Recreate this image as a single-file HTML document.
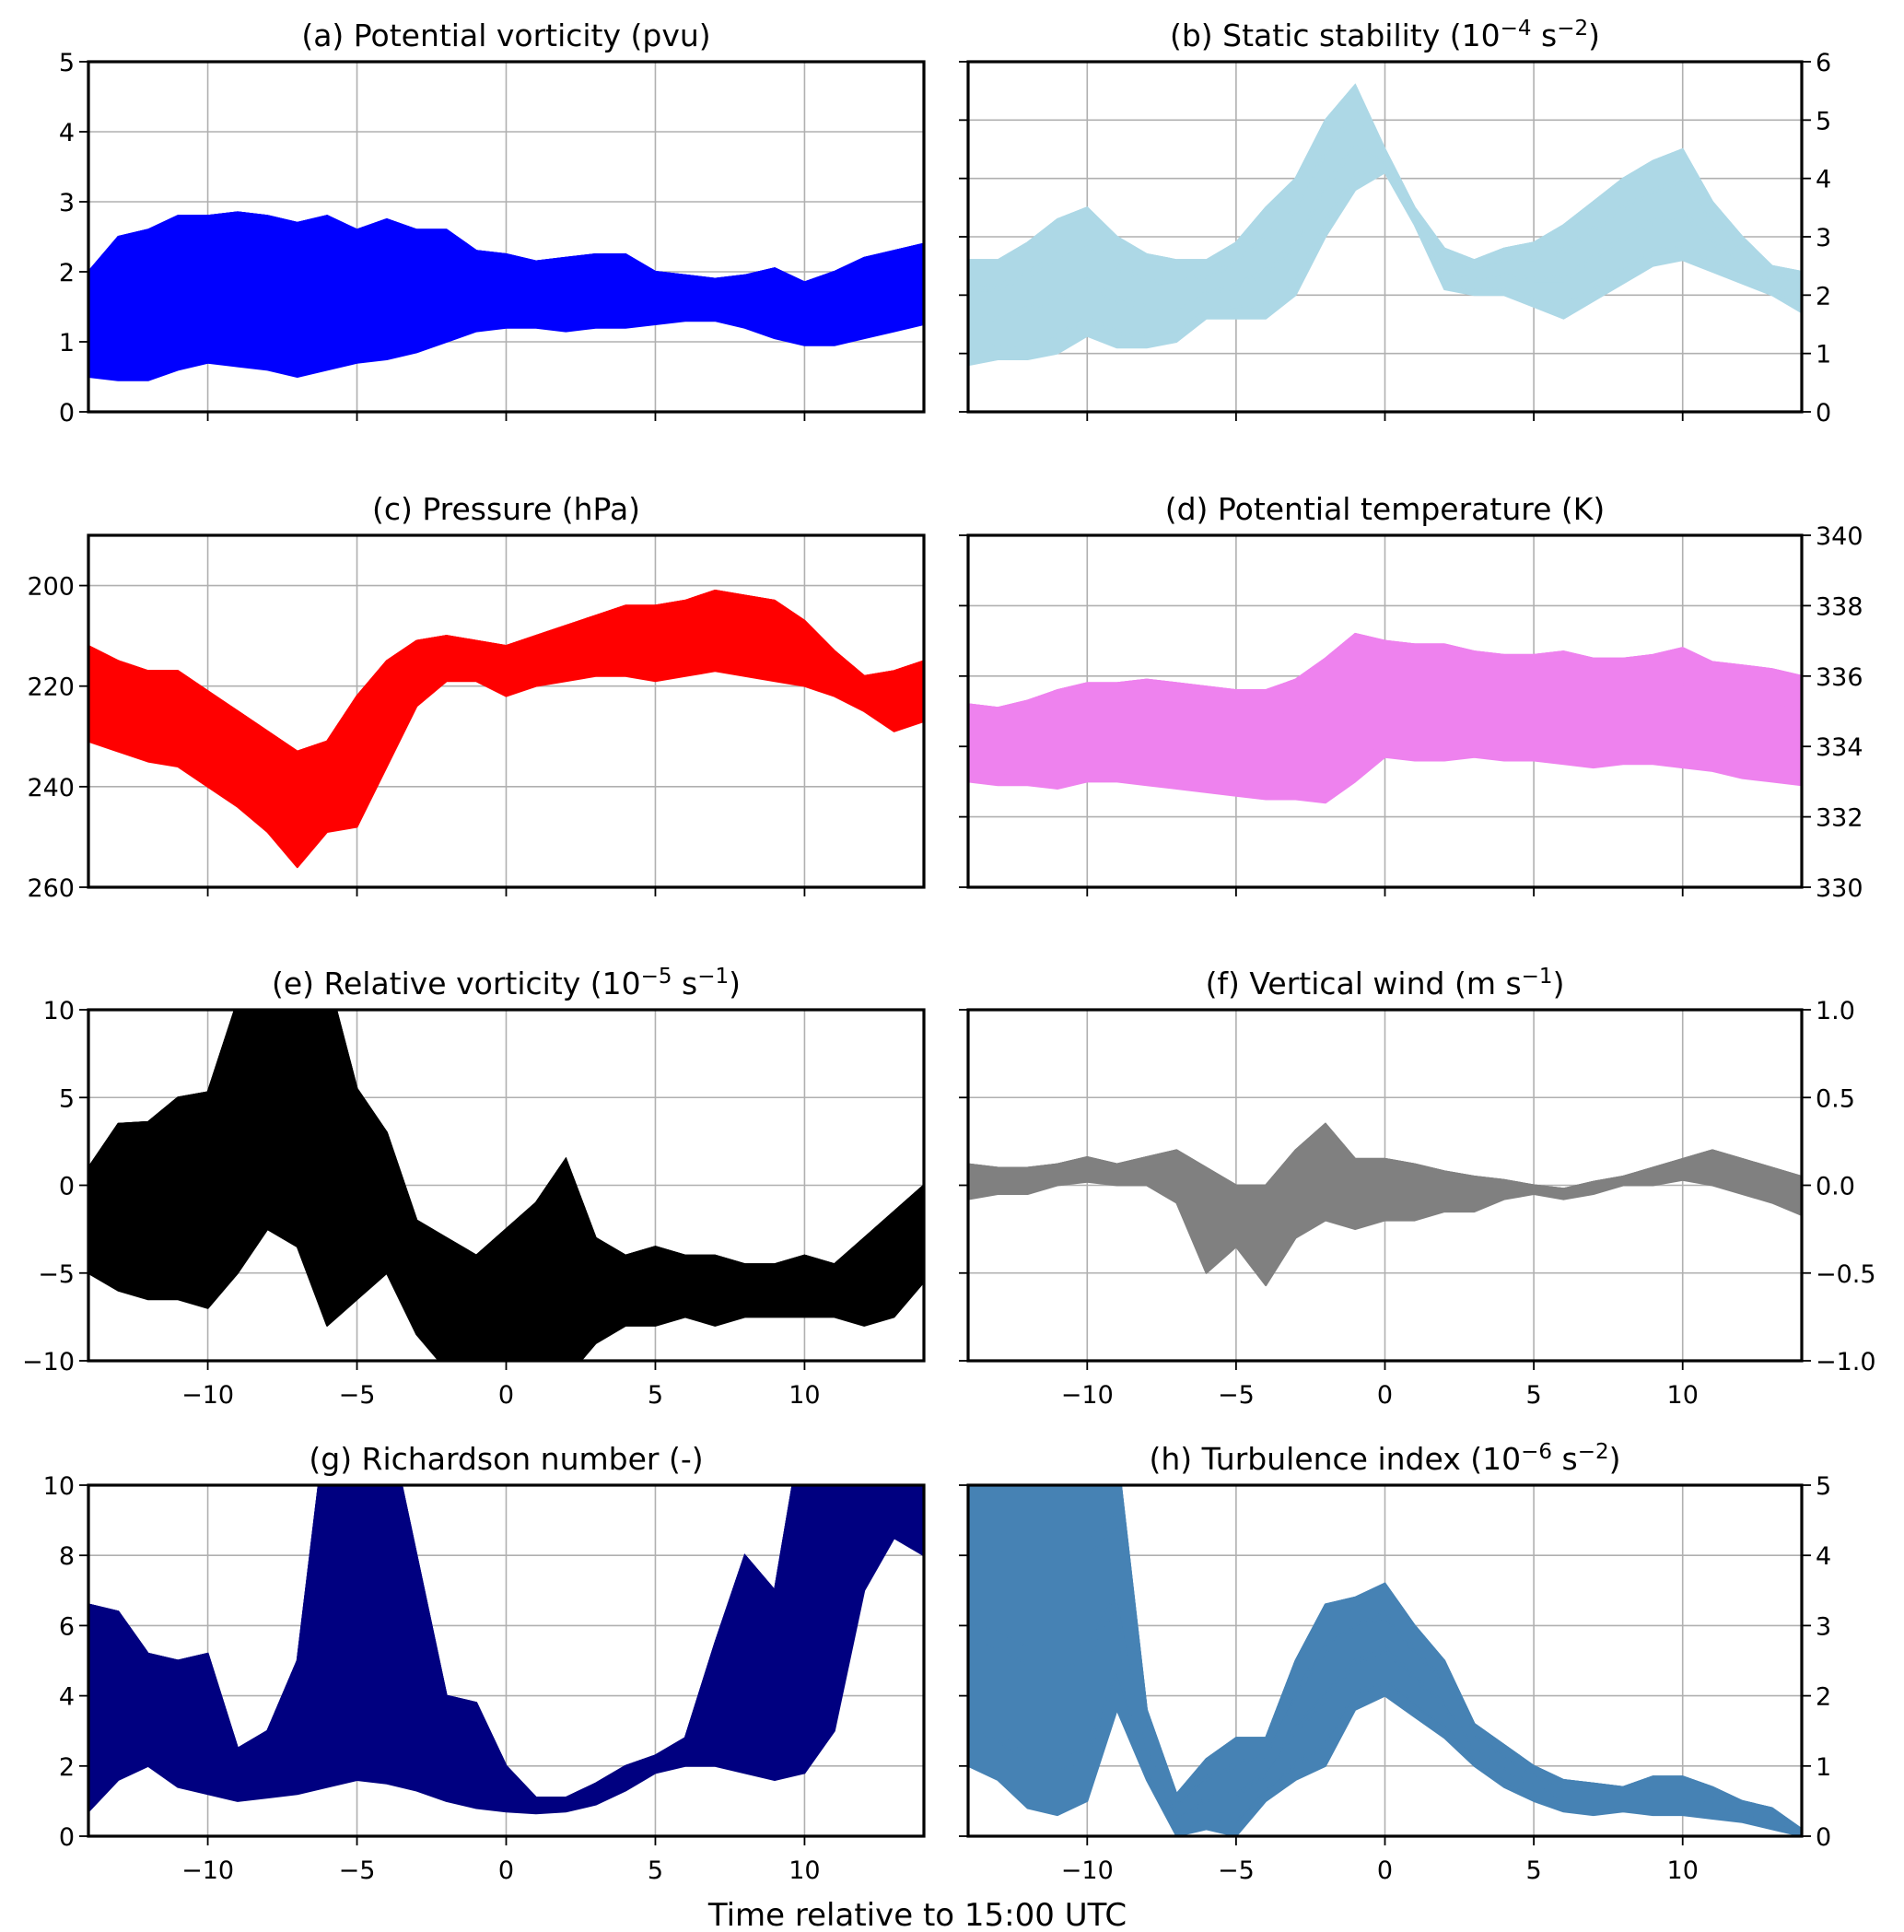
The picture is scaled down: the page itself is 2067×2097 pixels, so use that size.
<!DOCTYPE html>
<html><head><meta charset="utf-8"><style>
html,body{margin:0;padding:0;background:#fff}
svg{display:block;font-family:"DejaVu Sans","Liberation Sans",sans-serif}
</style></head><body>
<svg id="fig" width="2067" height="2097" viewBox="0 0 2067 2097" xmlns="http://www.w3.org/2000/svg"></svg>
<script>
const hours=[-14,-13,-12,-11,-10,-9,-8,-7,-6,-5,-4,-3,-2,-1,0,1,2,3,4,5,6,7,8,9,10,11,12,13,14];
const xTicks=[-10,-5,0,5,10];
const pvUpper=[2.0,2.5,2.6,2.8,2.8,2.85,2.8,2.7,2.8,2.6,2.75,2.6,2.6,2.3,2.25,2.15,2.2,2.25,2.25,2.0,1.95,1.9,1.95,2.05,1.85,2.0,2.2,2.3,2.4];
const pvLower=[0.5,0.45,0.45,0.6,0.7,0.65,0.6,0.5,0.6,0.7,0.75,0.85,1.0,1.15,1.2,1.2,1.15,1.2,1.2,1.25,1.3,1.3,1.2,1.05,0.95,0.95,1.05,1.15,1.25];
const ssUpper=[2.6,2.6,2.9,3.3,3.5,3.0,2.7,2.6,2.6,2.9,3.5,4.0,5.0,5.6,4.5,3.5,2.8,2.6,2.8,2.9,3.2,3.6,4.0,4.3,4.5,3.6,3.0,2.5,2.4];
const ssLower=[0.8,0.9,0.9,1.0,1.3,1.1,1.1,1.2,1.6,1.6,1.6,2.0,3.0,3.8,4.1,3.2,2.1,2.0,2.0,1.8,1.6,1.9,2.2,2.5,2.6,2.4,2.2,2.0,1.7];
const pUpper=[212,215,217,217,221,225,229,233,231,222,215,211,210,211,212,210,208,206,204,204,203,201,202,203,207,213,218,217,215];
const pLower=[231,233,235,236,240,244,249,256,249,248,236,224,219,219,222,220,219,218,218,219,218,217,218,219,220,222,225,229,227];
const thUpper=[335.2,335.1,335.3,335.6,335.8,335.8,335.9,335.8,335.7,335.6,335.6,335.9,336.5,337.2,337.0,336.9,336.9,336.7,336.6,336.6,336.7,336.5,336.5,336.6,336.8,336.4,336.3,336.2,336.0];
const thLower=[333.0,332.9,332.9,332.8,333.0,333.0,332.9,332.8,332.7,332.6,332.5,332.5,332.4,333.0,333.7,333.6,333.6,333.7,333.6,333.6,333.5,333.4,333.5,333.5,333.4,333.3,333.1,333.0,332.9];
const rvUpper=[1,3.5,3.6,5,5.3,10.5,10,12,12,5.5,3,-2,-3,-4,-2.5,-1,1.5,-3,-4,-3.5,-4,-4,-4.5,-4.5,-4,-4.5,-3,-1.5,0];
const rvLower=[-5,-6,-6.5,-6.5,-7,-5,-2.5,-3.5,-8,-6.5,-5,-8.5,-10.5,-10.5,-11,-11,-11,-9,-8,-8,-7.5,-8,-7.5,-7.5,-7.5,-7.5,-8,-7.5,-5.5];
const wUpper=[0.12,0.1,0.1,0.12,0.16,0.12,0.16,0.2,0.1,0.0,0.0,0.2,0.35,0.15,0.15,0.12,0.08,0.05,0.03,0.0,-0.02,0.02,0.05,0.1,0.15,0.2,0.15,0.1,0.05];
const wLower=[-0.08,-0.05,-0.05,0,0.02,0,0,-0.1,-0.5,-0.35,-0.57,-0.3,-0.2,-0.25,-0.2,-0.2,-0.15,-0.15,-0.08,-0.05,-0.08,-0.05,0,0,0.03,0,-0.05,-0.1,-0.17];
const riUpper=[6.6,6.4,5.2,5,5.2,2.5,3,5,12,12,12,8,4,3.8,2,1.1,1.1,1.5,2,2.3,2.8,5.5,8,7,12,12,12,12,11];
const riLower=[0.7,1.6,2,1.4,1.2,1.0,1.1,1.2,1.4,1.6,1.5,1.3,1.0,0.8,0.7,0.65,0.7,0.9,1.3,1.8,2.0,2.0,1.8,1.6,1.8,3,7,8.5,8];
const tiUpper=[5.5,5.5,5.5,5.5,5.5,5.5,1.8,0.6,1.1,1.4,1.4,2.5,3.3,3.4,3.6,3.0,2.5,1.6,1.3,1.0,0.8,0.75,0.7,0.85,0.85,0.7,0.5,0.4,0.1];
const tiLower=[1.0,0.8,0.4,0.3,0.5,1.8,0.8,0.0,0.1,0.0,0.5,0.8,1.0,1.8,2.0,1.7,1.4,1.0,0.7,0.5,0.35,0.3,0.35,0.3,0.3,0.25,0.2,0.1,0.0];

const NS="http://www.w3.org/2000/svg";
const svg=document.getElementById('fig');
function mk(tag,attrs,parent){const e=document.createElementNS(NS,tag);for(const k in attrs)e.setAttribute(k,attrs[k]);(parent||svg).appendChild(e);return e;}

const cols=[[96,1003],[1051,1956]];
const rows=[[67,447],[581,963],[1096,1477],[1612,1993]];
const panels=[
 {id:'a',col:0,row:0,title:['(a) Potential vorticity (pvu)'],min:0,max:5,inv:false,ticks:[0,1,2,3,4,5],labels:['0','1','2','3','4','5'],up:pvUpper,lo:pvLower,color:'#0000ff',xl:false},
 {id:'b',col:1,row:0,title:['(b) Static stability (10','−4',' s','−2',')'],min:0,max:6,inv:false,ticks:[0,1,2,3,4,5,6],labels:['0','1','2','3','4','5','6'],up:ssUpper,lo:ssLower,color:'#add8e6',xl:false},
 {id:'c',col:0,row:1,title:['(c) Pressure (hPa)'],min:190,max:260,inv:true,ticks:[200,220,240,260],labels:['200','220','240','260'],up:pUpper,lo:pLower,color:'#ff0000',xl:false},
 {id:'d',col:1,row:1,title:['(d) Potential temperature (K)'],min:330,max:340,inv:false,ticks:[330,332,334,336,338,340],labels:['330','332','334','336','338','340'],up:thUpper,lo:thLower,color:'#ee82ee',xl:false},
 {id:'e',col:0,row:2,title:['(e) Relative vorticity  (10','−5',' s','−1',')'],min:-10,max:10,inv:false,ticks:[-10,-5,0,5,10],labels:['−10','−5','0','5','10'],up:rvUpper,lo:rvLower,color:'#000000',xl:true},
 {id:'f',col:1,row:2,title:['(f) Vertical wind (m s','−1',')'],min:-1,max:1,inv:false,ticks:[-1,-0.5,0,0.5,1],labels:['−1.0','−0.5','0.0','0.5','1.0'],up:wUpper,lo:wLower,color:'#808080',xl:true},
 {id:'g',col:0,row:3,title:['(g) Richardson number (-)'],min:0,max:10,inv:false,ticks:[0,2,4,6,8,10],labels:['0','2','4','6','8','10'],up:riUpper,lo:riLower,color:'#000080',xl:true},
 {id:'h',col:1,row:3,title:['(h) Turbulence index (10','−6',' s','−2',')'],min:0,max:5,inv:false,ticks:[0,1,2,3,4,5],labels:['0','1','2','3','4','5'],up:tiUpper,lo:tiLower,color:'#4682b4',xl:true}
];
const defs=mk('defs',{});
panels.forEach(p=>{
 const [x0,x1]=cols[p.col],[y0,y1]=rows[p.row];
 const X=v=>x0+(v+14)/28*(x1-x0);
 const Y=v=>{const t=(v-p.min)/(p.max-p.min);return p.inv? y0+t*(y1-y0) : y1-t*(y1-y0);};
 const g=mk('g',{});
 
 
 const cp=mk('clipPath',{id:'clip'+p.id},defs);
 mk('rect',{x:x0,y:y0,width:x1-x0,height:y1-y0},cp);
 xTicks.forEach(t=>{const l=mk('line',{x1:X(t),x2:X(t),y1:y0,y2:y1,stroke:'#b0b0b0','stroke-width':1.6},g);
  });
 p.ticks.forEach(t=>{const l=mk('line',{x1:x0,x2:x1,y1:Y(t),y2:Y(t),stroke:'#b0b0b0','stroke-width':1.6},g);
  });
 const sg=mk('g',{'clip-path':'url(#clip'+p.id+')'},g);
 
 
 let d='';hours.forEach((h,i)=>{d+=(i?'L':'M')+X(h).toFixed(1)+','+Y(p.up[i]).toFixed(1);});
 for(let i=hours.length-1;i>=0;i--)d+='L'+X(hours[i]).toFixed(1)+','+Y(p.lo[i]).toFixed(1);
 const band=mk('path',{d:d+'Z',fill:p.color,stroke:p.color,'stroke-width':2,'stroke-linejoin':'round'},sg);
 
 
 const fr=[0,0.12,0.25,0.4,0.55,0.7,0.85,1];
 fr.forEach((f,k)=>{let dd='';hours.forEach((h,i)=>{const v=p.lo[i]+(p.up[i]-p.lo[i])*(k%2?f:1-f);dd+=(i?'L':'M')+X(h).toFixed(1)+','+Y(v).toFixed(1);});
  const l=mk('path',{d:dd,fill:'none',stroke:p.color,'stroke-width':2},sg);
  });
 const sp=mk('rect',{x:x0,y:y0,width:x1-x0,height:y1-y0,fill:'none',stroke:'#000','stroke-width':3.2},g);
 
 xTicks.forEach((t,i)=>{mk('line',{x1:X(t),x2:X(t),y1:y1,y2:y1+10,stroke:'#000','stroke-width':1.8},g);
  if(p.xl){const tx=mk('text',{x:X(t),y:y1+46,'font-size':27,'text-anchor':'middle'},g);tx.textContent=['−10','−5','0','5','10'][i];
   }});
 p.ticks.forEach((t,i)=>{
  mk('line',{x1:x0-10,x2:x0,y1:Y(t),y2:Y(t),stroke:'#000','stroke-width':1.8},g);
  if(p.col===1)mk('line',{x1:x1,x2:x1+10,y1:Y(t),y2:Y(t),stroke:'#000','stroke-width':1.8},g);
  const tx=p.col===0?mk('text',{x:x0-15,y:Y(t)+10,'font-size':27,'text-anchor':'end'},g):mk('text',{x:x1+15,y:Y(t)+10,'font-size':27,'text-anchor':'start'},g);
  tx.textContent=p.labels[i];
  });
 const tt=mk('text',{x:(x0+x1)/2,y:y0-17,'font-size':33,'text-anchor':'middle'},g);
 
 p.title.forEach((s,i)=>{const ts=mk('tspan',{},tt);
  if(i%2===1){ts.setAttribute('font-size','23');ts.setAttribute('dy','-12');}
  else if(i>0){ts.setAttribute('dy','12');}
  ts.textContent=s;});
});
const xl=mk('text',{x:996,y:2090,'font-size':34,'text-anchor':'middle'});
xl.textContent='Time relative to 15:00 UTC';


</script>
</body></html>
